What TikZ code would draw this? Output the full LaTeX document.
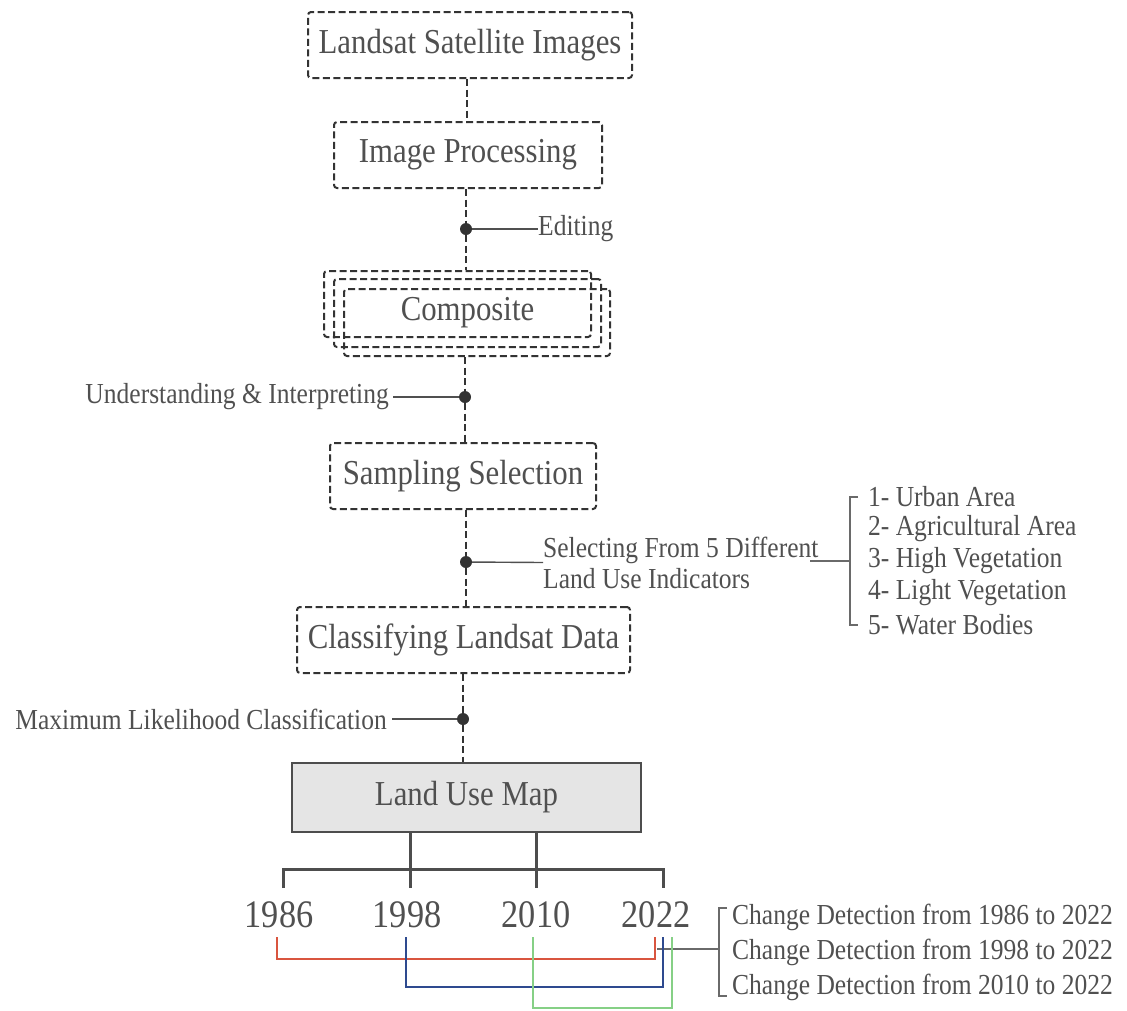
\documentclass[tikz,border=0pt]{standalone}
\usepackage{fontspec}
\setmainfont[FakeStretch=0.88]{Liberation Serif}
\usetikzlibrary{calc}
\definecolor{txt}{HTML}{505050}
\definecolor{edge}{HTML}{333333}
\definecolor{treeline}{HTML}{4D4D4D}
\definecolor{mapfill}{HTML}{E5E5E5}
\definecolor{pairred}{HTML}{D9553F}
\definecolor{pairblue}{HTML}{2E4A8F}
\definecolor{pairgreen}{HTML}{86D086}
\tikzset{
  stage/.style={draw=edge, line width=2pt, dash pattern=on 7pt off 3.5pt,
    rounded corners=3pt, inner sep=0pt, text=txt,
    font=\fontsize{35}{40}\selectfont},
  flow/.style={draw=edge, line width=2pt, dash pattern=on 7pt off 3.5pt},
  joint/.style={circle, fill=edge, minimum size=12pt, inner sep=0pt},
  note/.style={text=txt, font=\fontsize{29}{31}\selectfont, inner sep=0pt},
  lead/.style={draw=txt, line width=1.4pt},
  brk/.style={draw=txt!85, line width=1.4pt},
  tree/.style={draw=treeline, line width=3pt},
  year/.style={text=txt, font=\fontsize{39}{40}\selectfont, inner sep=0pt},
  pair/.style={line width=2pt},
}
\begin{document}
\begin{tikzpicture}[x=1pt,y=-1pt]
\useasboundingbox (0,0) rectangle (1127,1010);

% main chain of stages
\node[stage, minimum width=324pt, minimum height=66pt] (src) at (470,45) {Landsat Satellite Images};
\node[stage, minimum width=268pt, minimum height=66pt] (proc) at (468,155) {Image Processing};
\node[stage, minimum width=267pt, minimum height=66pt] (compA) at (457.5,304) {};
\node[stage, minimum width=267pt, minimum height=68pt] (compB) at (467.5,313) {Composite};
\node[stage, minimum width=266pt, minimum height=67pt] (compC) at (477,322.5) {};
\node[stage, minimum width=266pt, minimum height=66pt] (samp) at (463,476) {Sampling Selection};
\node[stage, minimum width=333pt, minimum height=66pt] (cls) at (463.5,640) {Classifying Landsat Data};
\node[draw=treeline, fill=mapfill, line width=2.5pt, minimum width=349pt, minimum height=69pt,
      inner sep=0pt, text=txt, font=\fontsize{35}{40}\selectfont] (lum) at (466.5,797.5) {Land Use Map};

% joints on the chain
\node[joint] (jE) at (466,229) {};
\node[joint] (jU) at (465,397) {};
\node[joint] (jS) at (466,562) {};
\node[joint] (jM) at (463,719) {};

% dashed flow lines
\draw[flow] (src.south -| 467,0) -- (proc.north -| 467,0);
\draw[flow] (proc.south -| jE) -- (jE) -- (compA.north -| jE);
\draw[flow] (compC.south -| jU) -- (jU) -- (samp.north -| jU);
\draw[flow] (samp.south -| jS) -- (jS) -- (cls.north -| jS);
\draw[flow] (cls.south -| jM) -- (jM) -- (lum.north -| jM);

% side notes
\node[note, anchor=west] (nE) at (538,229) {Editing};
\draw[lead] (jE) -- (nE.west);
\node[note, anchor=east] (nU) at (389,397) {Understanding \& Interpreting};
\draw[lead] (nU.east) ++(4,0) -- (jU);
\node[note, anchor=west, align=left] (nS) at (543,562.5) {Selecting From 5 Different\\Land Use Indicators};
\draw[lead] (jS) -- (nS.west);
\node[note, anchor=east] (nM) at (387,719) {Maximum Likelihood Classification};
\draw[lead] (nM.east) ++(5,0) -- (jM);

% land use indicators
\node[note, anchor=west] (li1) at (868,497) {1- Urban Area};
\node[note, anchor=west] (li2) at (868,529) {2- Agricultural Area};
\node[note, anchor=west] (li3) at (868,561) {3- High Vegetation};
\node[note, anchor=west] (li4) at (868,593) {4- Light Vegetation};
\node[note, anchor=west] (li5) at (868,625) {5- Water Bodies};
\coordinate (selEnd) at (810,561);
\coordinate (brMid) at (850,561);
\draw[brk] (li1.west) ++(-10,0) -- (850,497) -- (850,625) -- ($(li5.west)+(-10,0)$);
\draw[brk] (selEnd) -- (brMid);

% years
\node[year] (y86) at (279,915) {1986};
\node[year] (y98) at (407,915) {1998};
\node[year] (y10) at (536,915) {2010};
\node[year] (y22) at (656,915) {2022};

\coordinate (stemA) at (410,869);
\coordinate (stemB) at (536,869);
\draw[tree] (lum.south -| stemA) -- (410,888);
\draw[tree] (lum.south -| stemB) -- (536,888);
\draw[tree] (283,888) -- (283,869) -- (663,869) -- (663,888);

% change detection pairs
\coordinate (cdStart) at (657,949);
\coordinate (cdMid) at (719,949);
\draw[brk] (cdStart) -- (cdMid);
\node[note, anchor=west] (cd1) at (732,917) {Change Detection from 1986 to 2022};
\node[note, anchor=west] (cd2) at (732,952) {Change Detection from 1998 to 2022};
\node[note, anchor=west] (cd3) at (732,987) {Change Detection from 2010 to 2022};
\draw[brk] (cd1.west) ++(-5,-9) -- (719,908) -- (719,996) -- ($(cd3.west)+(-5,9)$);

\draw[pair, pairred] (277,937) -- (277,959) -- (655,959) -- (655,937);
\draw[pair, pairblue] (406,937) -- (406,987) -- (663,987) -- (663,937);
\draw[pair, pairgreen] (533,937) -- (533,1008) -- (672,1008) -- (672,937);
\end{tikzpicture}
\end{document}
